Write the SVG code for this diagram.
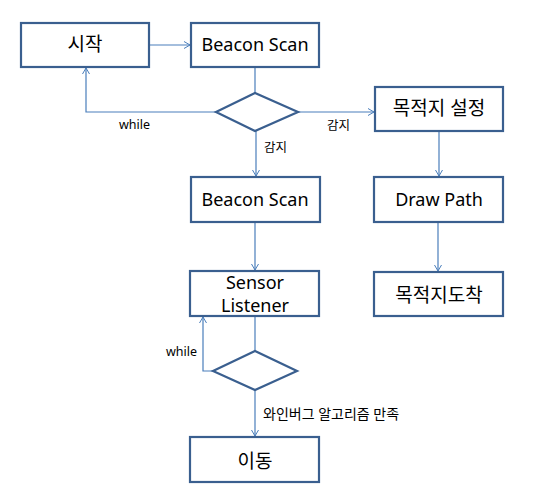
<svg xmlns="http://www.w3.org/2000/svg" width="548" height="498" viewBox="0 0 548 498">
<defs>
<marker id="arr" markerWidth="10" markerHeight="10" refX="7" refY="4" orient="auto" markerUnits="userSpaceOnUse">
<path d="M1,0.5 L7,4 L1,7.5" fill="none" stroke="#4a7ebb" stroke-width="1"/>
</marker>
<style>
.box{fill:#fff;stroke:#3a5f8f;stroke-width:2.2}
.dia{fill:#fff;stroke:#3a5f8f;stroke-width:2.2}
.t{font-family:"Noto Sans","Noto Sans CJK KR",sans-serif;font-size:18px;fill:#000;text-anchor:middle}
.k{font-size:19px}
.l{font-family:"Noto Sans","Noto Sans CJK KR",sans-serif;font-size:12.5px;fill:#000}
.c{fill:none;stroke:#4a7ebb;stroke-width:1.2}
</style>
</defs>
<rect width="548" height="498" fill="#fff"/>
<g id="connectors">
<path class="c" d="M149,45 H190" marker-end="url(#arr)"/>
<path class="c" d="M255,67 V93"/>
<path class="c" d="M216,112 H86 V68" marker-end="url(#arr)"/>
<path class="c" d="M298,112 H374" marker-end="url(#arr)"/>
<path class="c" d="M256,131 V176" marker-end="url(#arr)"/>
<path class="c" d="M439,131 V176" marker-end="url(#arr)"/>
<path class="c" d="M255,222 V270" marker-end="url(#arr)"/>
<path class="c" d="M438,222 V271" marker-end="url(#arr)"/>
<path class="c" d="M255,316 V351"/>
<path class="c" d="M213,371 H203 V317" marker-end="url(#arr)"/>
<path class="c" d="M255,390 V436" marker-end="url(#arr)"/>
<text class="l" x="119" y="129">while</text>
<text class="l" x="327" y="130">감지</text>
<text class="l" x="264" y="152">감지</text>
<text class="l" x="166" y="356">while</text>
<text class="l" x="263" y="419" style="font-size:14px">와인버그 알고리즘 만족</text>
</g>
<g id="start"><rect class="box" x="21" y="23" width="128" height="44"/><text class="t k" x="85" y="51">시작</text></g>
<g id="scan1"><rect class="box" x="191" y="23" width="128" height="44"/><text class="t" x="255" y="51">Beacon Scan</text></g>
<g id="decision1"><polygon class="dia" points="216,112 255,93 298,112 255,131"/></g>
<g id="setdest"><rect class="box" x="375" y="87" width="128" height="44"/><text class="t k" x="439" y="115">목적지 설정</text></g>
<g id="scan2"><rect class="box" x="191" y="177" width="129" height="45"/><text class="t" x="255" y="206">Beacon Scan</text></g>
<g id="drawpath"><rect class="box" x="374" y="177" width="129" height="45"/><text class="t" x="439" y="206">Draw Path</text></g>
<g id="sensor"><rect class="box" x="190" y="271" width="129" height="45"/><text class="t" x="255" y="289">Sensor</text><text class="t" x="255" y="312">Listener</text></g>
<g id="arrive"><rect class="box" x="374" y="272" width="129" height="44"/><text class="t k" x="439" y="302">목적지도착</text></g>
<g id="decision2"><polygon class="dia" points="213,371 255,351 297,371 255,390"/></g>
<g id="move"><rect class="box" x="190" y="437" width="129" height="45"/><text class="t k" x="255" y="468">이동</text></g>
</svg>
